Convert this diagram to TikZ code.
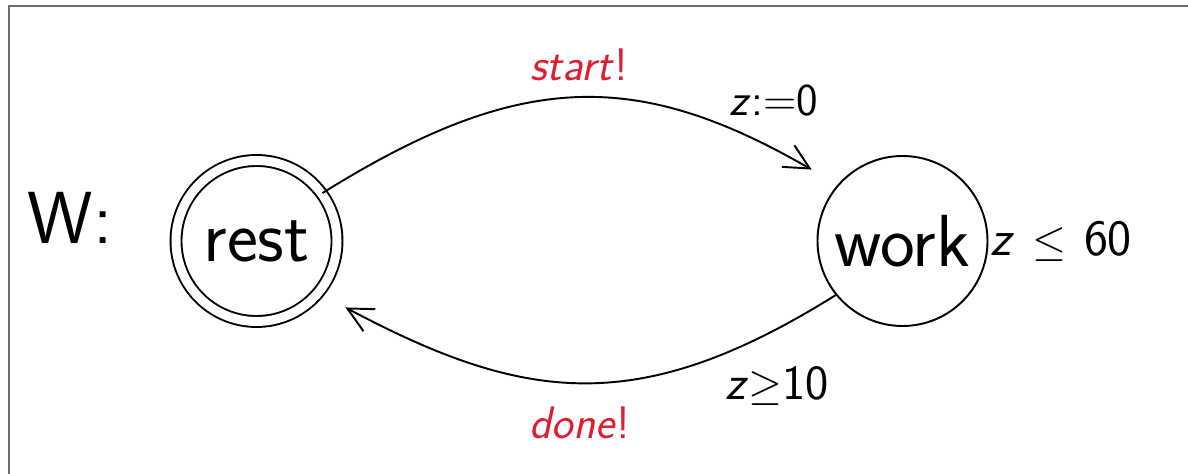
\documentclass[tikz,border=0pt]{standalone}
\usepackage{fontspec}
\usetikzlibrary{positioning,arrows.meta}
\definecolor{chanred}{RGB}{224,28,48}
\definecolor{framegray}{RGB}{110,110,110}

\begin{document}
\begin{tikzpicture}[x=1cm, y=1cm]
    % Styles
    \tikzstyle{state} = [circle, draw, line width=1.1pt, inner sep=0pt,
        minimum size=3.4cm, font=\sffamily\fontsize{42}{50}\selectfont]
    \tikzstyle{initstate} = [state, double, double distance=0.18cm, minimum size=3.22cm]
    \tikzstyle{lbl} = [font=\sffamily\fontsize{26}{30}\selectfont, inner sep=1pt]
    \tikzstyle{chan} = [lbl, text=chanred]
    \tikzstyle{trans} = [line width=1.1pt, -{Straight Barb[length=5mm, width=5mm]},
        shorten >=0.6cm, looseness=1.15]

    \useasboundingbox (0,0) rectangle (23.76,-9.48);
    \draw [framegray, line width=1.5pt] (0.18,-9.6) -- (0.18,-0.12) -- (23.9,-0.12);

    % Nodes
    \node [font=\sffamily\fontsize{42}{50}\selectfont] (name) at (1.4,-4.36) {W:};
    \node [initstate] (rest) at (5.13,-4.82) {rest};
    \node [state] (work) at (18.05,-4.82) {work};
    \node [lbl, font=\sffamily\fontsize{29}{34}\selectfont, right=0pt of work.east]
        (inv) {\textit{z}\hspace{0.35em}$\leq$\hspace{0.35em}60};

    % Arrows
    \draw [trans] (rest.36) to[out=32, in=150] (work.139);
    \draw [trans] (work.-141) to[out=-148, in=-28] (rest.-40);

    % Labels
    \node [chan] (sync1) at (11.58,-1.30) {\textit{start}!};
    \node [lbl] (upd1) at (15.48,-2.02) {\textit{z}:=0};
    \node [lbl, font=\sffamily\fontsize{28}{32}\selectfont] (guard2) at (15.54,-7.72) {\textit{z}$\geq$10};
    \node [chan] (sync2) at (11.6,-8.45) {\textit{done}!};
\end{tikzpicture}
\end{document}
